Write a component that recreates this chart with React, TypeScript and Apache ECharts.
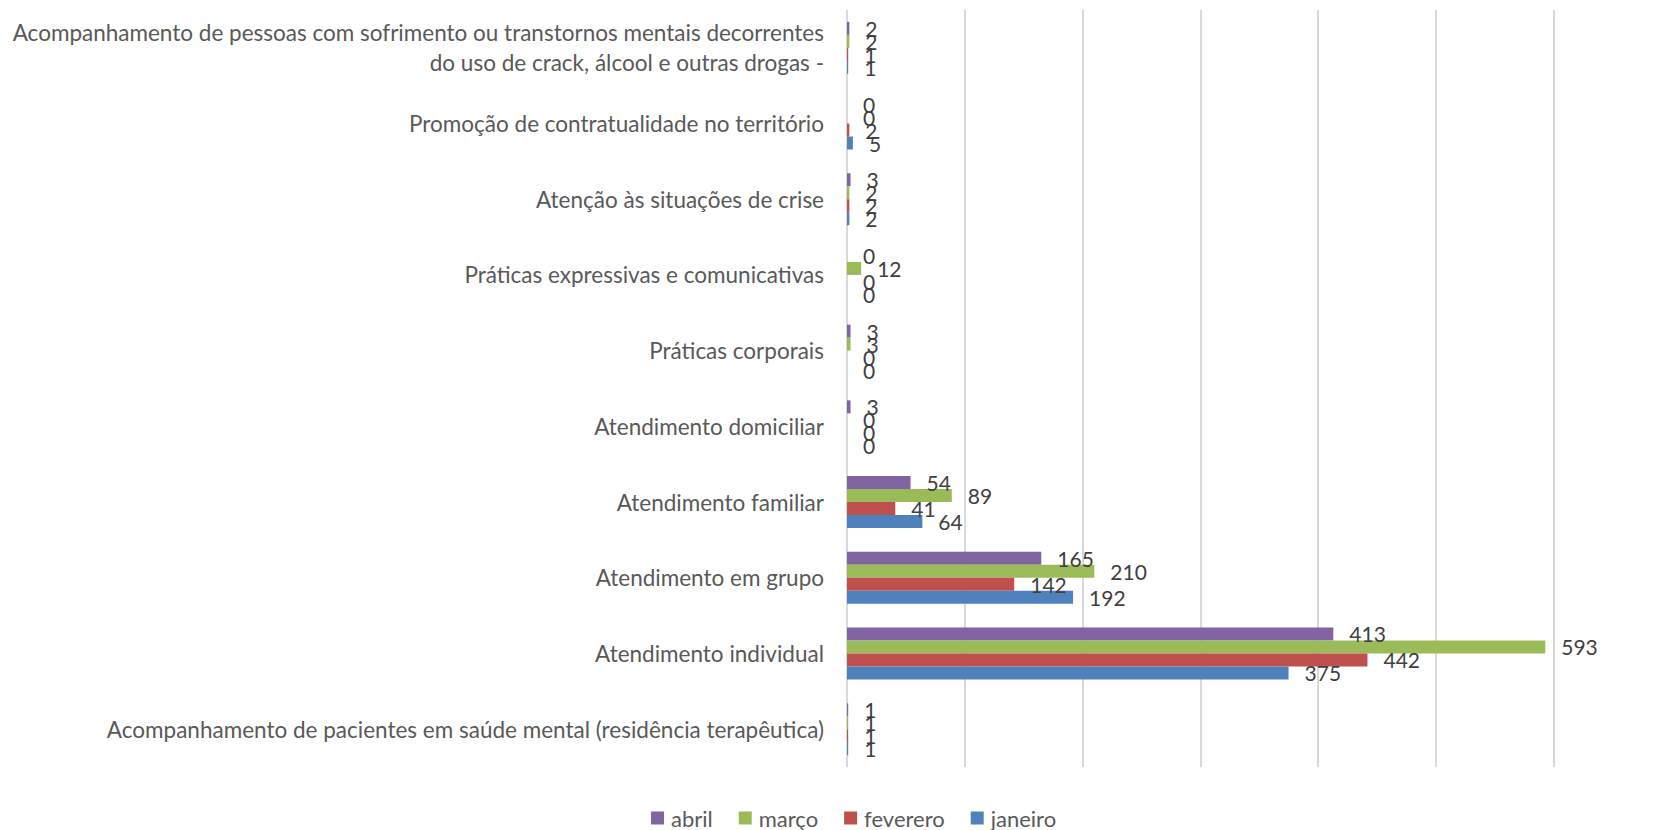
import React, { useEffect, useRef } from "react";
import * as echarts from "echarts";

const categories = [
  "Acompanhamento de pacientes em saúde mental (residência terapêutica)",
  "Atendimento individual",
  "Atendimento em grupo",
  "Atendimento familiar",
  "Atendimento domiciliar",
  "Práticas corporais",
  "Práticas expressivas e comunicativas",
  "Atenção às situações de crise",
  "Promoção de contratualidade no território",
  "Acompanhamento de pessoas com sofrimento ou transtornos mentais decorrentes\ndo uso de crack, álcool e outras drogas -",
];

const janeiro = [1, 375, 192, 64, 0, 0, 0, 2, 5, 1];
const feverero = [1, 442, 142, 41, 0, 0, 0, 2, 2, 1];
const marco = [1, 593, 210, 89, 0, 3, 12, 2, 0, 2];
const abril = [1, 413, 165, 54, 3, 3, 0, 3, 0, 2];

const legendOrder = ["abril", "março", "feverero", "janeiro"];

const FONT = "Lato, 'Noto Sans', sans-serif";

export default function App() {
  const ref = useRef<HTMLDivElement>(null);
  useEffect(() => {
    document.body.style.margin = "0";
    if (!ref.current) return;
    const chart = echarts.init(ref.current, undefined, { renderer: "svg" });
    const mk = (name: string, data: number[], color: string) => ({
      name,
      type: "bar",
      data,
      barWidth: 13,
      barGap: "0%",
      itemStyle: { color },
      label: {
        show: true,
        position: "right",
        distance: 16,
        color: "#404040",
        fontSize: 21,
        fontFamily: FONT,
      },
    });
    chart.setOption({
      animation: false,
      textStyle: { fontFamily: FONT },
      grid: { left: 847, right: 107.5, top: 10, bottom: 63, containLabel: false },
      xAxis: {
        type: "value",
        min: 0,
        max: 600,
        interval: 100,
        axisLabel: { show: false },
        axisLine: { show: false },
        axisTick: { show: false },
        splitLine: { show: true, lineStyle: { color: "#D9D9D9", width: 2 } },
      },
      yAxis: {
        type: "category",
        data: categories,
        axisLine: { show: false },
        axisTick: { show: false },
        axisLabel: {
          margin: 23,
          color: "#595959",
          fontSize: 22.5,
          fontFamily: FONT,
          lineHeight: 30,
          align: "right",
        },
      },
      legend: {
        data: legendOrder,
        left: 646,
        top: 802,
        icon: "rect",
        itemWidth: 13,
        itemHeight: 13,
        itemGap: 26,
        textStyle: { color: "#595959", fontSize: 22, fontFamily: FONT, padding: [0, 0, 0, 2] },
      },
      series: [
        mk("abril", abril, "#8064A2"),
        mk("março", marco, "#9BBB59"),
        mk("feverero", feverero, "#C0504D"),
        mk("janeiro", janeiro, "#4F81BD"),
      ],
    });
    return () => chart.dispose();
  }, []);
  return <div ref={ref} style={{ width: 1661, height: 830 }} />;
}
